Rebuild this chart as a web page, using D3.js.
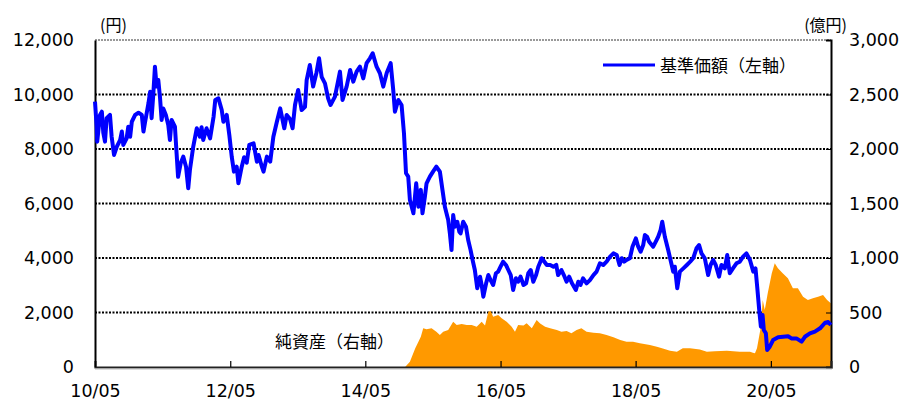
<!DOCTYPE html>
<html>
<head>
<meta charset="utf-8">
<script src="https://cdn.jsdelivr.net/npm/d3@7"></script>
<style>
  body { margin: 0; background: #fff; }
  .num text { font-family: 'DejaVu Sans', Verdana, sans-serif; font-size: 17.5px; fill: #000; }
  .jp { font-family: 'Noto Sans CJK JP', sans-serif; fill: #000; }
</style>
</head>
<body>
<div id="chart"></div>
<script>
// 基準価額（円）
const navDates = [
  '2010-05-01','2010-05-10','2010-05-13','2010-05-28','2010-06-07','2010-06-15','2010-06-24','2010-07-03','2010-07-21','2010-07-30',
  '2010-08-12','2010-08-27','2010-09-14','2010-09-23','2010-10-01','2010-10-19','2010-10-28','2010-11-07','2010-11-16','2010-12-04',
  '2010-12-22','2011-01-09','2011-01-18','2011-01-27','2011-02-14','2011-02-23','2011-03-03','2011-03-12','2011-03-21','2011-03-30',
  '2011-04-08','2011-04-17','2011-04-26','2011-05-05','2011-05-19','2011-06-01','2011-06-10','2011-06-19','2011-07-07','2011-07-16',
  '2011-07-24','2011-08-07','2011-08-21','2011-09-05','2011-09-17','2011-09-26','2011-10-14','2011-11-02','2011-11-19','2011-11-28',
  '2011-12-07','2011-12-25','2012-01-13','2012-02-01','2012-02-10','2012-02-27','2012-03-16','2012-03-25','2012-04-12','2012-04-26',
  '2012-05-09','2012-05-21','2012-06-05','2012-06-14','2012-07-02','2012-07-15','2012-07-29','2012-08-12','2012-09-04','2012-09-22',
  '2012-10-01','2012-10-19','2012-10-28','2012-11-15','2012-12-03','2012-12-20','2013-01-08','2013-01-26','2013-02-17','2013-03-02',
  '2013-03-20','2013-04-03','2013-04-16','2013-05-03','2013-05-22','2013-06-09','2013-06-18','2013-07-05','2013-07-23','2013-08-10',
  '2013-08-24','2013-09-07','2013-09-25','2013-10-12','2013-10-25','2013-11-18','2013-12-15','2013-12-29','2014-01-20','2014-02-08',
  '2014-02-25','2014-03-15','2014-04-02','2014-04-20','2014-05-08','2014-05-26','2014-06-10','2014-07-01','2014-07-19','2014-08-06',
  '2014-08-25','2014-09-15','2014-09-29','2014-10-08','2014-10-26','2014-11-13','2014-11-26','2014-12-07','2014-12-19','2014-12-28',
  '2015-01-16','2015-01-31','2015-02-12','2015-02-25','2015-03-06','2015-03-19','2015-03-28','2015-04-15','2015-05-02','2015-05-20',
  '2015-06-08','2015-06-22','2015-07-05','2015-07-23','2015-08-01','2015-08-10','2015-08-19','2015-08-28','2015-09-10','2015-09-21',
  '2015-09-28','2015-10-12','2015-10-27','2015-11-08','2015-11-21','2015-12-02','2015-12-14','2015-12-27','2016-01-11','2016-01-20',
  '2016-01-29','2016-02-13','2016-02-25','2016-03-08','2016-03-22','2016-04-06','2016-04-18','2016-05-01','2016-05-15','2016-05-30',
  '2016-06-12','2016-06-25','2016-07-08','2016-07-23','2016-08-04','2016-08-17','2016-09-02','2016-09-16','2016-09-28','2016-10-11',
  '2016-10-25','2016-11-09','2016-11-21','2016-12-10','2016-12-24','2017-01-06','2017-01-24','2017-02-11','2017-02-26','2017-03-08',
  '2017-03-26','2017-04-08','2017-04-23','2017-05-07','2017-05-22','2017-06-12','2017-06-25','2017-07-07','2017-07-21','2017-08-09',
  '2017-08-27','2017-09-15','2017-10-02','2017-10-20','2017-11-07','2017-11-25','2017-12-14','2018-01-01','2018-01-19','2018-02-03',
  '2018-02-15','2018-02-28','2018-03-13','2018-03-31','2018-04-14','2018-05-02','2018-05-15','2018-05-28','2018-06-11','2018-06-20',
  '2018-07-02','2018-07-13','2018-08-04','2018-08-18','2018-08-31','2018-09-13','2018-09-22','2018-10-06','2018-10-24','2018-11-12',
  '2018-11-20','2018-11-29','2018-12-12','2018-12-26','2019-01-14','2019-02-02','2019-02-20','2019-03-08','2019-03-26','2019-04-09',
  '2019-04-22','2019-05-10','2019-05-28','2019-06-10','2019-06-24','2019-07-08','2019-07-26','2019-08-08','2019-08-26','2019-09-08',
  '2019-09-22','2019-10-09','2019-10-28','2019-11-15','2019-12-03','2019-12-21','2020-01-09','2020-01-27','2020-02-08','2020-02-17',
  '2020-02-28','2020-03-08','2020-03-17','2020-03-24','2020-04-04','2020-04-11','2020-04-25','2020-05-13','2020-06-09','2020-07-06',
  '2020-08-02','2020-08-20','2020-09-16','2020-10-14','2020-11-01','2020-11-28','2020-12-25','2021-01-22','2021-02-18','2021-03-07',
  '2021-03-21'
];
const navValues = [
  9740,8820,8270,9250,9370,8590,8270,9130,9250,8450,
  7780,8090,8330,8640,8150,8390,8820,8450,9000,9250,
  9330,9250,8640,9000,9680,10100,9130,10000,11020,10290,
  10530,9920,9065,9490,9250,8880,8330,9065,8820,7840,
  6980,7475,7720,7350,6560,7230,8090,8760,8450,8800,
  8330,8760,8390,9190,9800,9860,9430,9000,9250,8515,
  7720,7170,7350,6740,7350,7700,7500,8150,8210,7535,
  7780,7350,7170,7720,7535,8450,9000,9490,8760,9250,
  9100,8760,9615,10165,9430,9550,10530,11080,10290,10800,
  11330,10650,10410,9860,9615,9920,10840,9800,10290,10900,
  10470,10840,11020,10590,11150,11330,11510,11020,10780,10290,
  10800,11150,10165,9370,9800,9615,8575,7110,6985,6130,
  5640,6740,5880,6500,5640,6250,6740,6985,7170,7350,
  7170,6500,5880,5395,4905,4290,5580,5150,5330,4965,
  4905,5330,5150,4660,4290,3925,3560,2890,3315,3000,
  2580,3070,3375,3190,3010,3440,3500,3680,3865,3745,
  3560,3375,2825,3255,3130,3315,3010,3070,3440,3560,
  3130,3375,3680,3990,3865,3745,3745,3680,3745,3375,
  3560,3375,3130,3315,3070,2825,3130,3010,3255,3070,
  3190,3375,3500,3805,3745,3865,4050,4170,4110,3745,
  3990,3865,3930,3990,4415,4720,4415,4230,4475,4845,
  4780,4600,4415,4600,4780,5030,5330,4780,4290,3745,
  3500,3680,2890,3500,3620,3745,3865,3990,4355,4475,
  4170,3990,3375,3745,3925,3745,3315,3745,3620,4110,
  3440,3620,3805,3865,4050,4170,3925,3500,3620,2950,
  2090,1480,1910,1360,1235,625,745,990,1090,1110,
  1130,1050,1050,930,1110,1235,1300,1420,1625,1650,
  1540
];

// 純資産（億円）
const assetDates = [
  '2010-05-01','2014-12-02','2014-12-28','2015-01-26','2015-02-12','2015-02-25','2015-03-10','2015-03-28','2015-04-24','2015-05-20',
  '2015-06-08','2015-06-26','2015-07-23','2015-08-19','2015-09-07','2015-10-04','2015-10-31','2015-11-27','2015-12-24','2016-01-20',
  '2016-02-07','2016-02-25','2016-03-08','2016-03-22','2016-04-18','2016-05-07','2016-06-03','2016-06-30','2016-07-18','2016-08-04',
  '2016-09-02','2016-09-19','2016-10-17','2016-11-12','2016-12-01','2016-12-28','2017-01-24','2017-03-01','2017-03-26','2017-04-23',
  '2017-05-19','2017-06-16','2017-07-12','2017-08-09','2017-09-15','2017-10-20','2017-11-25','2018-01-01','2018-02-07','2018-03-13',
  '2018-04-17','2018-05-24','2018-07-17','2018-08-24','2018-09-25','2018-11-03','2018-12-10','2019-01-11','2019-02-19','2019-04-13',
  '2019-05-21','2019-07-03','2019-09-06','2019-11-15','2020-01-09','2020-01-25','2020-02-05','2020-02-16','2020-03-08','2020-03-18',
  '2020-03-29','2020-04-14','2020-05-06','2020-05-22','2020-06-08','2020-07-04','2020-08-01','2020-08-28','2020-09-24','2020-10-22',
  '2020-11-17','2020-12-14','2021-01-11','2021-02-07','2021-03-01','2021-03-21'
];
const assetValues = [
  0,0,49,171,232,278,355,346,355,324,
  294,324,340,416,385,395,385,385,370,416,
  380,507,517,461,477,447,416,370,324,385,
  380,401,355,431,400,370,355,340,324,330,
  309,340,355,324,315,309,294,272,248,232,
  232,217,202,186,170,150,140,171,171,160,
  140,145,150,140,140,131,126,171,370,615,
  523,676,860,951,905,860,814,722,722,645,
  615,631,645,661,615,584
];

const leftTicks = [0, 2000, 4000, 6000, 8000, 10000, 12000];
const rightTicks = [0, 500, 1000, 1500, 2000, 2500, 3000];
const xTickDates = ['2010-05-01','2012-05-01','2014-05-01','2016-05-01','2018-05-01','2020-05-01'];
const xTickLabels = ['10/05','12/05','14/05','16/05','18/05','20/05'];
const xDomain = ['2010-05-01', '2021-03-22'];

const W = 903, H = 401;
const margin = {top: 40, right: 72, bottom: 34, left: 95};
const parse = d3.timeParse('%Y-%m-%d');

const nav = navDates.map((d, i) => ({date: parse(d), v: navValues[i]}));
const assets = assetDates.map((d, i) => ({date: parse(d), v: assetValues[i]}));

const svg = d3.select('#chart').append('svg')
  .attr('width', W)
  .attr('height', H);

const x = d3.scaleTime()
  .domain(xDomain.map(parse))
  .range([margin.left, W - margin.right]);
const yL = d3.scaleLinear().domain([0, 12000]).range([H - margin.bottom, margin.top]);
const yR = d3.scaleLinear().domain([0, 3000]).range([H - margin.bottom, margin.top]);

// grid
svg.append('g')
  .selectAll('line')
  .data(leftTicks.filter(d => d > 0 && d < 12000))
  .enter()
  .append('line')
  .attr('x1', margin.left)
  .attr('x2', W - margin.right)
  .attr('y1', d => yL(d))
  .attr('y2', d => yL(d))
  .attr('stroke', '#000')
  .attr('stroke-width', 2)
  .attr('stroke-dasharray', '2,1.5');

svg.append('line')
  .attr('x1', margin.left)
  .attr('x2', W - margin.right)
  .attr('y1', yL(12000))
  .attr('y2', yL(12000))
  .attr('stroke', '#999')
  .attr('stroke-width', 2)
  .attr('stroke-dasharray', '2,1');

// net assets area
svg.append('path')
  .datum(assets)
  .attr('fill', '#ff9900')
  .attr('d', d3.area()
    .x(d => x(d.date))
    .y0(yR(0))
    .y1(d => yR(d.v)));

// axes
const axL = svg.append('g')
  .attr('class', 'num')
  .attr('transform', `translate(${margin.left},0)`)
  .call(d3.axisLeft(yL).tickValues(leftTicks).tickSize(0).tickPadding(21).tickFormat(d3.format(',')));
axL.select('.domain').attr('stroke', '#000').attr('stroke-width', 2);

const axR = svg.append('g')
  .attr('class', 'num')
  .attr('transform', `translate(${W - margin.right},0)`)
  .call(d3.axisRight(yR).tickValues(rightTicks).tickSize(-5).tickPadding(18).tickFormat(d3.format(',')));
axR.select('.domain').attr('stroke', '#000').attr('stroke-width', 2);
axR.selectAll('.tick line').attr('stroke', '#000');

const axB = svg.append('g')
  .attr('class', 'num')
  .attr('transform', `translate(0,${H - margin.bottom})`)
  .call(d3.axisBottom(x)
    .tickValues(xTickDates.map(parse))
    .tickSize(-6)
    .tickPadding(18)
    .tickFormat((d, i) => xTickLabels[i]));
axB.select('.domain').attr('stroke', '#222').attr('stroke-width', 2);
axB.selectAll('.tick line').attr('stroke', '#000').attr('stroke-width', 1.2);

svg.append('line')
  .attr('x1', margin.left)
  .attr('x2', W - margin.right + 1)
  .attr('y1', H - margin.bottom + 2)
  .attr('y2', H - margin.bottom + 2)
  .attr('stroke', '#bbb')
  .attr('stroke-width', 1);

// NAV line
svg.append('path')
  .datum(nav)
  .attr('fill', 'none')
  .attr('stroke', '#0000ff')
  .attr('stroke-width', 4)
  .attr('stroke-linejoin', 'round')
  .attr('d', d3.line()
    .x(d => x(d.date))
    .y(d => yL(d.v)));

// units
svg.append('text')
  .attr('class', 'jp')
  .attr('x', 100)
  .attr('y', 31)
  .style('font-size', '16px')
  .text('(円)');

svg.append('text')
  .attr('class', 'jp')
  .attr('x', 847)
  .attr('y', 31)
  .attr('text-anchor', 'end')
  .style('font-size', '16px')
  .text('(億円)');

// legend
svg.append('line')
  .attr('x1', 603)
  .attr('x2', 655)
  .attr('y1', 65)
  .attr('y2', 65)
  .attr('stroke', '#0000ff')
  .attr('stroke-width', 3);

svg.append('text')
  .attr('class', 'jp')
  .attr('x', 660)
  .attr('y', 72)
  .style('font-size', '17px')
  .text('基準価額（左軸）');

svg.append('text')
  .attr('class', 'jp')
  .attr('x', 275)
  .attr('y', 348)
  .style('font-size', '17px')
  .text('純資産（右軸）');
</script>
</body>
</html>
